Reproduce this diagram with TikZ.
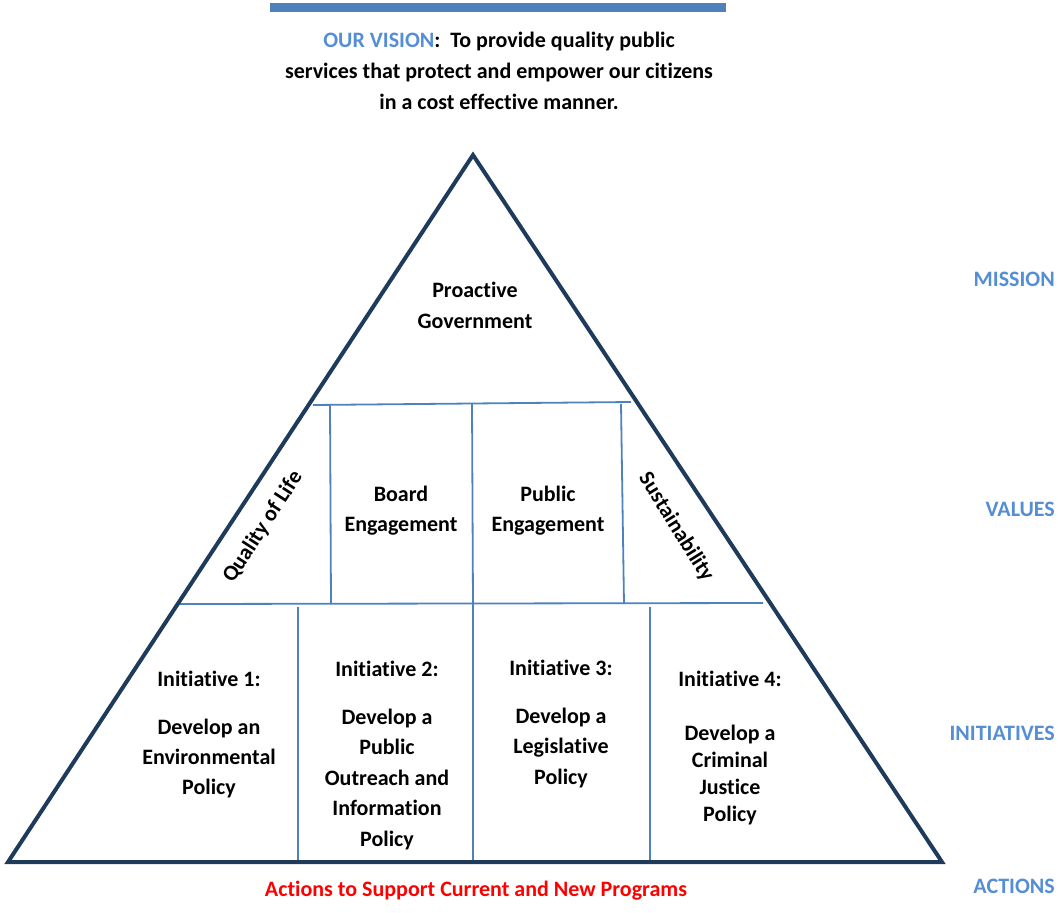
\documentclass[tikz,border=0pt]{standalone}
\usepackage{fontspec}
\setmainfont{Carlito}[Ligatures=CommonOff]
\definecolor{navy}{HTML}{1F3B5C}
\definecolor{lineblue}{HTML}{4F81BD}
\definecolor{lblue}{HTML}{558ED5}
\begin{document}
\begin{tikzpicture}[x=1pt,y=-1pt,
  tri/.style={draw=navy,line width=4pt,line join=miter},
  sep/.style={draw=lineblue,line width=1.8pt},
  txt/.style={font=\fontsize{22}{30}\selectfont\bfseries,align=center,inner sep=0pt,anchor=base},
  side/.style={font=\fontsize{22}{30}\selectfont\bfseries,text=lblue,inner sep=0pt,anchor=base east}]
\useasboundingbox (0,0) rectangle (1058,913);
% top bar
\fill[lineblue] (270,3) rectangle (726,12);
% vision (anchor = baseline of last line)
\node[txt,font=\fontsize{22}{31}\selectfont\bfseries] (vision) at (499,109)
  {\textcolor{lblue}{OUR VISION}:\ \ To provide quality public\\services that protect and empower our citizens\\in a cost effective manner.};
% triangle corners
\coordinate (apex) at (473,155);
\coordinate (bl) at (8,862);
\coordinate (br) at (942,862);
% values box lines
\coordinate (vtl) at (313,405);
\coordinate (vtr) at (631,402);
\coordinate (vbl) at (180,604);
\coordinate (vbr) at (763,603);
\draw[sep] (vtl) -- (vtr);
\draw[sep] (vbl) -- (vbr);
\coordinate (v1t) at (330,405); \coordinate (v1b) at (331,604);
\coordinate (v2t) at (472,404); \coordinate (v2b) at (473,604);
\coordinate (v3t) at (621,404); \coordinate (v3b) at (624,604);
\draw[sep] (v1t) -- (v1b);
\draw[sep] (v2t) -- (v2b);
\draw[sep] (v3t) -- (v3b);
% initiative dividers
\coordinate (i1t) at (298,607); \coordinate (i1b) at (298,862);
\coordinate (i2t) at (473,604); \coordinate (i2b) at (473,862);
\coordinate (i3t) at (650,607); \coordinate (i3b) at (650,862);
\draw[sep] (i1t) -- (i1b);
\draw[sep] (i2t) -- (i2b);
\draw[sep] (i3t) -- (i3b);
% triangle
\draw[tri] (apex) -- (bl) -- (br) -- cycle;
% texts (anchor = baseline of last line)
\node[txt,font=\fontsize{22}{31}\selectfont\bfseries] (mission) at (475,328) {Proactive\\Government};
\node[txt] (board) at (401,531) {Board\\Engagement};
\node[txt] (public) at (548,531) {Public\\Engagement};
\node[txt,anchor=center,rotate=57] (qol) at (263,527) {Quality of Life};
\node[txt,anchor=center,rotate=-58] (sust) at (676,527) {Sustainability};
\node[txt] (init1) at (209,794) {Initiative 1:\\[18pt]Develop an\\Environmental\\Policy};
\node[txt,font=\fontsize{22}{30.5}\selectfont\bfseries] (init2) at (387,846) {Initiative 2:\\[17pt]Develop a\\Public\\Outreach and\\Information\\Policy};
\node[txt,font=\fontsize{22}{30.5}\selectfont\bfseries] (init3) at (561,784) {Initiative 3:\\[17pt]Develop a\\Legislative\\Policy};
\node[txt,font=\fontsize{22}{27}\selectfont\bfseries] (init4) at (730,821) {Initiative 4:\\[27pt]Develop a\\Criminal\\Justice\\Policy};
\node[txt,text=red] (actions) at (476,896) {Actions to Support Current and New Programs};
% side labels
\node[side] (lmission) at (1055,286) {MISSION};
\node[side] (lvalues) at (1055,516) {VALUES};
\node[side] (linit) at (1055,740) {INITIATIVES};
\node[side] (lactions) at (1055,893) {ACTIONS};
\end{tikzpicture}
\end{document}
